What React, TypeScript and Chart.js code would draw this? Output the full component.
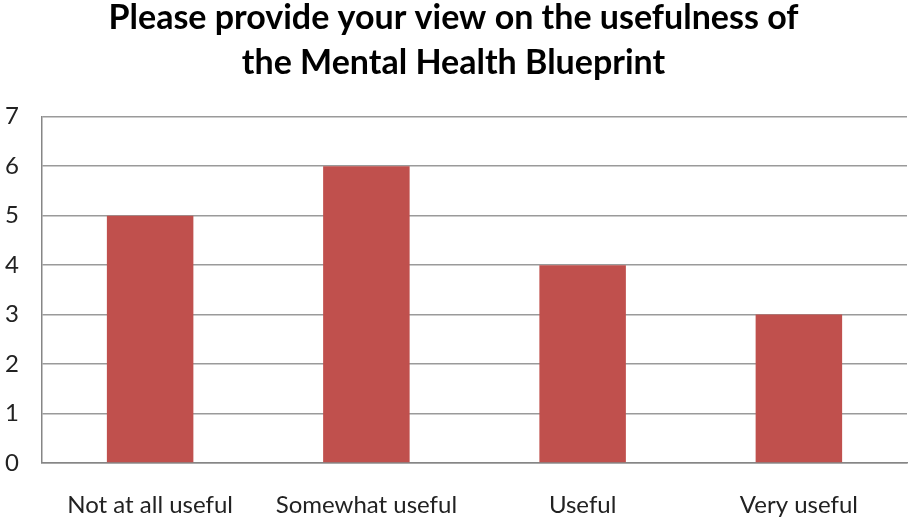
import React, { useEffect, useRef } from "react";
import { Chart, registerables } from "chart.js";

Chart.register(...registerables);

const categories = ["Not at all useful", "Somewhat useful", "Useful", "Very useful"];
const values = [5, 6, 4, 3];
const titleLines = ["Please provide your view on the usefulness of", "the Mental Health Blueprint"];
const yMin = 0;
const yMax = 7;

export default function App() {
  const ref = useRef<HTMLCanvasElement | null>(null);
  useEffect(() => {
    if (!ref.current) return;
    const chart = new Chart(ref.current, {
      type: "bar",
      data: {
        labels: categories,
        datasets: [
          {
            data: values,
            backgroundColor: "#C0504D",
            borderWidth: 0,
            categoryPercentage: 1,
            barPercentage: 0.4,
          },
        ],
      },
      options: {
        responsive: false,
        animation: false,
        layout: { padding: { left: 0, right: 2, top: 0, bottom: 0 } },
        plugins: {
          legend: { display: false },
          tooltip: { enabled: false },
          title: {
            display: true,
            text: titleLines,
            color: "#000",
            font: { family: "Lato", size: 34, weight: "bold", lineHeight: 1.32 },
            padding: { top: -4, bottom: 31 },
          },
        },
        scales: {
          x: {
            grid: { display: false, drawTicks: false },
            border: { display: true, color: "#868686", width: 1.5 },
            ticks: { color: "#222", font: { family: "Lato", size: 24 }, padding: 28 },
            afterFit: (s: any) => {
              s.height = 55;
            },
          },
          y: {
            min: yMin,
            max: yMax,
            grid: { color: "#9a9a9a", lineWidth: 1.5, drawTicks: false },
            border: { display: true, color: "#868686", width: 1.5 },
            ticks: {
              stepSize: 1,
              color: "#222",
              font: { family: "Lato", size: 24 },
              padding: 23,
              align: "center",
            },
            afterFit: (s: any) => {
              s.width = 42;
            },
          },
        },
      },
    });
    return () => chart.destroy();
  }, []);
  return (
    <div style={{ position: "fixed", left: 0, top: 0, width: 909, height: 518, background: "#fff" }}>
      <canvas ref={ref} width={909} height={518} />
    </div>
  );
}
